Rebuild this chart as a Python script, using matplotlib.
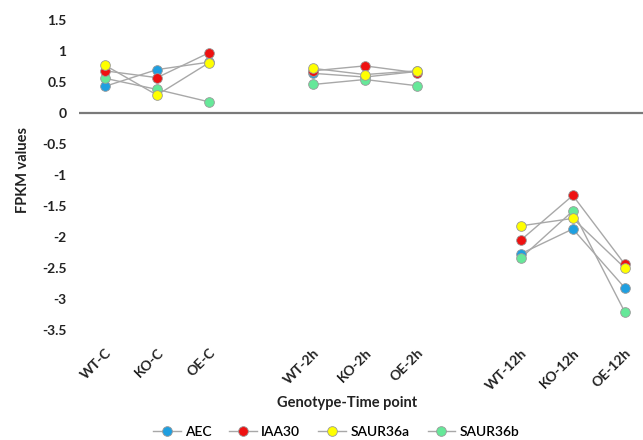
import numpy as np
import matplotlib
matplotlib.use("Agg")
import matplotlib.pyplot as plt
from matplotlib.lines import Line2D

plt.rcParams['font.family'] = ['Lato', 'DejaVu Sans']

categories = ["WT-C", "KO-C", "OE-C", "", "WT-2h", "KO-2h", "OE-2h", "", "WT-12h", "KO-12h", "OE-12h"]
nan = np.nan
AEC      = [0.43, 0.70, 0.82, nan, 0.64, 0.58, 0.67, nan, -2.27, -1.87, -2.82]
IAA30    = [0.68, 0.57, 0.97, nan, 0.68, 0.76, 0.65, nan, -2.05, -1.33, -2.44]
SAUR36a  = [0.77, 0.29, 0.81, nan, 0.72, 0.62, 0.68, nan, -1.82, -1.70, -2.50]
SAUR36b  = [0.56, 0.38, 0.18, nan, 0.46, 0.54, 0.44, nan, -2.34, -1.58, -3.21]

series = [("AEC", AEC, "#1f9fe0"), ("IAA30", IAA30, "#ee1111"),
          ("SAUR36a", SAUR36a, "#ffff00"), ("SAUR36b", SAUR36b, "#66e899")]
draw_order = ["AEC", "SAUR36b", "IAA30", "SAUR36a"]

fig = plt.figure(figsize=(6.43, 4.4), dpi=100)
ax = fig.add_axes([79/643, 1-330/440, 1-79/643, (330-20)/440])
x = np.arange(len(categories))

line_color = "#a8a8a8"
for name in draw_order:
    vals = [v for n, v, c in series if n == name][0]
    ax.plot(x, vals, color=line_color, lw=1.0, zorder=2)
for z, name in enumerate(draw_order):
    vals, col = [(v, c) for n, v, c in series if n == name][0]
    ax.plot(x, vals, ls='none', marker='o', ms=7, mfc=col, mec='#9a9a9a', mew=0.6, zorder=3+z)

ax.axhline(0, color='#7a7a7a', lw=1.6, zorder=1)
ax.set_ylim(-3.5, 1.5)
ax.set_xlim(-0.5, 10.35)
for s in ax.spines.values():
    s.set_visible(False)
ax.set_yticks(np.arange(-3.5, 1.51, 0.5))
ax.set_yticklabels([f"{v:g}" for v in np.arange(-3.5, 1.51, 0.5)], fontsize=10, fontweight='bold', color='#222222')
ax.tick_params(axis='y', length=0, pad=9)
ax.set_xticks(x)
ax.set_xticklabels(categories, rotation=45, ha='right', rotation_mode='anchor', fontsize=10, fontweight='bold', color='#222222')
ax.tick_params(axis='x', length=0, pad=12)

fig.text(23/643, 1-170/440, "FPKM values", rotation=90, ha='center', va='center', fontsize=10.5, fontweight='bold', color='#222222')
fig.text(347/643, 1-403/440, "Genotype-Time point", ha='center', va='center', fontsize=10.5, fontweight='bold', color='#222222')

handles = [Line2D([0], [0], color=line_color, lw=1.0, marker='o', ms=7, mfc=c, mec='#9a9a9a', mew=0.6) for n, v, c in series]
fig.legend(handles, [n for n, v, c in series], ncol=4, loc='center', bbox_to_anchor=(336/643, 1-432/440),
           frameon=False, handlelength=2.0, columnspacing=1.3, handletextpad=0.3,
           prop={'weight': 'semibold', 'size': 10})

fig.savefig("out.png", dpi=100)
